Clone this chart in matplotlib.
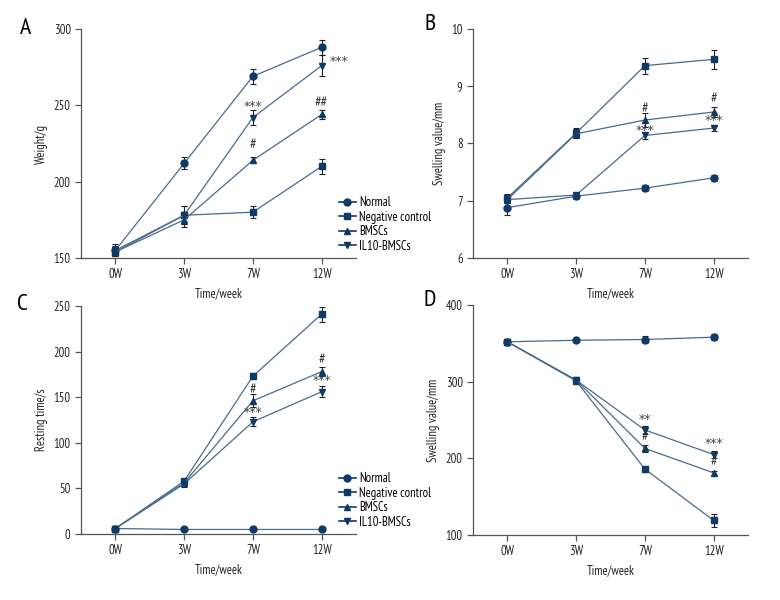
import matplotlib.pyplot as plt
from matplotlib import font_manager
from matplotlib.lines import Line2D
import numpy as np

# pick a condensed sans if one is around, otherwise fall back
names = set(f.name for f in font_manager.fontManager.ttflist)
wanted = ['PT Sans Narrow', 'Roboto Condensed', 'Fira Sans Condensed', 'Liberation Sans Narrow']
fams = [n for n in wanted if n in names][:1]
plt.rcParams['font.family'] = fams + ['Liberation Sans', 'DejaVu Sans']

weeks = ['0W', '3W', '7W', '12W']
groups = ['Normal', 'Negative control', 'BMSCs', 'IL10-BMSCs']
markers = ['o', 's', '^', 'v']

# A: weight (g)
weight = [[155, 212, 269, 288],
          [154, 178, 180, 210],
          [154, 175, 214, 244],
          [155, 178, 242, 276]]
weight_err = [[4, 4, 5, 5],
              [3, 6, 4, 5],
              [3, 5, 2, 3],
              [3, 6, 5, 7]]

# B: swelling (mm)
swell = [[6.88, 7.08, 7.22, 7.40],
         [7.05, 8.18, 9.36, 9.47],
         [7.02, 8.17, 8.41, 8.55],
         [7.02, 7.10, 8.14, 8.27]]
swell_err = [[0.13, 0.05, 0.05, 0.05],
             [0.07, 0.09, 0.14, 0.17],
             [0.05, 0.08, 0.13, 0.09],
             [0.05, 0.04, 0.06, 0.06]]

# C: resting time (s)
rest = [[6, 5, 5, 5],
        [6, 58, 173, 241],
        [6, 56, 146, 178],
        [6, 55, 123, 156]]
rest_err = [[1, 1, 1, 1],
            [1, 2, 3, 8],
            [1, 2, 7, 5],
            [1, 3, 5, 6]]

# D
sw2 = [[352, 354, 355, 358],
       [352, 301, 186, 119],
       [352, 302, 213, 181],
       [352, 302, 237, 205]]
sw2_err = [[3, 2, 4, 4],
           [3, 4, 4, 9],
           [3, 4, 5, 3],
           [3, 4, 5, 4]]

# significance marks: (x index, y, text)
notes_a = [(2, 249, '***'), (2, 224, '#'), (3, 251, '##'), (3.25, 279, '***')]
notes_b = [(2, 8.6, '#'), (2, 8.23, '***'), (3, 8.77, '#'), (3, 8.4, '***')]
notes_c = [(2, 157, '#'), (2, 133, '***'), (3, 190, '#'), (3, 168, '***')]
notes_d = [(2, 250, '**'), (2, 227, '#'), (3, 219, '***'), (3, 194, '#')]

mcol = '#0f3a66'
lcol = '#4a6a8e'

fig = plt.figure(figsize=(7.8, 6), dpi=100)
W, H = 780, 600


def add_ax(l, r, t, b):
    return fig.add_axes([l / W, 1 - b / H, (r - l) / W, (b - t) / H])


panels = [
    (add_ax(81, 356, 29, 258), weight, weight_err, (150, 300), [150, 200, 250, 300], 'Weight/g', notes_a),
    (add_ax(473, 748, 29, 258), swell, swell_err, (6, 10), [6, 7, 8, 9, 10], 'Swelling value/mm', notes_b),
    (add_ax(81, 356, 306, 534), rest, rest_err, (0, 250), [0, 50, 100, 150, 200, 250], 'Resting time/s', notes_c),
    (add_ax(473, 748, 305, 535), sw2, sw2_err, (100, 400), [100, 200, 300, 400], 'Swelling value/mm', notes_d),
]

x = np.arange(len(weeks))
for ax, data, err, ylim, yt, ylab, notes in panels:
    for i in range(4):
        ax.errorbar(x, data[i], yerr=err[i], color=lcol, lw=0.9, marker=markers[i],
                    ms=5, mfc=mcol, mec=mcol, ecolor='#222222', elinewidth=0.8,
                    capsize=2.5, capthick=0.8)
    ax.set_xlim(-0.5, 3.5)
    ax.set_ylim(*ylim)
    ax.set_yticks(yt)
    ax.set_xticks(x)
    ax.set_xticklabels(weeks)
    ax.spines['top'].set_visible(False)
    ax.spines['right'].set_visible(False)
    for s in ['left', 'bottom']:
        ax.spines[s].set_color('#555555')
        ax.spines[s].set_linewidth(0.9)
    ax.tick_params(colors='#555555', labelcolor='#222222', labelsize=9, width=0.9, length=4)
    ax.set_ylabel(ylab, fontsize=9, color='#222222')
    ax.set_xlabel('Time/week', fontsize=9, color='#222222')
    for xi, yi, t in notes:
        if '*' in t:
            ax.text(xi, yi, t, ha='center', va='center', fontsize=9, color='#444444',
                    family='DejaVu Sans')
        else:
            ax.text(xi, yi, t, ha='center', va='center', fontsize=10.5, color='#333333')

fig.text(25 / W, 1 - 28 / H, 'A', fontsize=17, ha='center', va='center')
fig.text(430 / W, 1 - 25 / H, 'B', fontsize=17, ha='center', va='center')
fig.text(22 / W, 1 - 304 / H, 'C', fontsize=17, ha='center', va='center')
fig.text(430 / W, 1 - 300 / H, 'D', fontsize=17, ha='center', va='center')

handles = [Line2D([], [], color=mcol, lw=1.2, marker=m, ms=5) for m in markers]
for ax, top in [(panels[0][0], 190), (panels[2][0], 466)]:
    ax.legend(handles, groups, loc='upper left', bbox_to_anchor=(333 / W, 1 - top / H),
              bbox_transform=fig.transFigure, frameon=False, fontsize=9,
              handlelength=1.3, handletextpad=0.3, labelspacing=0.12, borderpad=0)

fig.savefig('out.png', dpi=100, facecolor='white')
